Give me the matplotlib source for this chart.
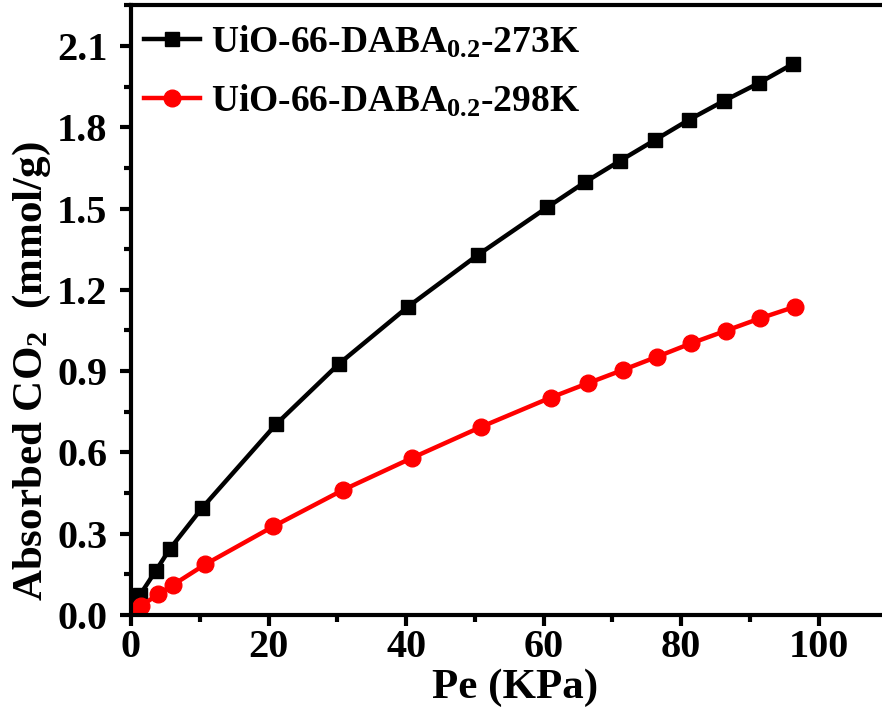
import matplotlib
matplotlib.use('Agg')
import matplotlib.pyplot as plt
from matplotlib.ticker import MultipleLocator, FormatStrFormatter

plt.rcParams['font.family'] = ['Liberation Serif', 'DejaVu Serif']
plt.rcParams['font.weight'] = 'bold'
plt.rcParams['mathtext.fontset'] = 'custom'
plt.rcParams['mathtext.rm'] = 'Liberation Serif:bold'
plt.rcParams['mathtext.it'] = 'Liberation Serif:bold'
plt.rcParams['mathtext.bf'] = 'Liberation Serif:bold'

# CO2 uptake, 273 K
p_273 = [0.6, 1.3, 3.6, 5.6, 10.3, 21.1, 30.2, 40.3, 50.4, 60.5, 66.0,
         71.1, 76.2, 81.1, 86.2, 91.3, 96.2]
q_273 = [0.026, 0.074, 0.163, 0.242, 0.394, 0.704, 0.926, 1.138, 1.328,
         1.504, 1.597, 1.676, 1.753, 1.827, 1.897, 1.963, 2.033]

# CO2 uptake, 298 K
p_298 = [0.6, 1.45, 3.9, 6.1, 10.8, 20.7, 30.8, 40.9, 50.9, 61.0, 66.4,
         71.5, 76.5, 81.5, 86.5, 91.5, 96.6]
q_298 = [0.016, 0.033, 0.076, 0.111, 0.187, 0.327, 0.461, 0.580, 0.694,
         0.802, 0.855, 0.904, 0.953, 1.003, 1.049, 1.095, 1.138]

labels = [r'UiO-66-DABA$_{0.2}$-273K', r'UiO-66-DABA$_{0.2}$-298K']

fig = plt.figure(figsize=(8.82, 7.25), dpi=100)
ax = fig.add_axes([131 / 882, 110 / 725, 751 / 882, 610 / 725])

ax.plot(p_273, q_273, '-s', color='black', lw=3.2, ms=10, label=labels[0])
ax.plot(p_298, q_298, '-o', color='red', lw=3.2, ms=12, label=labels[1])

ax.set_xlim(0, 109.2)
ax.set_ylim(0, 2.251)
ax.xaxis.set_major_locator(MultipleLocator(20))
ax.xaxis.set_minor_locator(MultipleLocator(10))
ax.yaxis.set_major_locator(MultipleLocator(0.3))
ax.yaxis.set_minor_locator(MultipleLocator(0.15))
ax.yaxis.set_major_formatter(FormatStrFormatter('%.1f'))

for s in ax.spines.values():
    s.set_linewidth(3)
ax.spines['right'].set_visible(False)

ax.tick_params(which='major', direction='out', length=8, width=3, labelsize=29)
ax.tick_params(which='minor', direction='out', length=5, width=3)
ax.tick_params(axis='x', which='major', pad=2)
ax.tick_params(axis='y', which='major', pad=9)

ax.set_xlabel('Pe (KPa)', fontsize=31, fontweight='bold')
ax.set_ylabel(r'Absorbed CO$_2$  (mmol/g)', fontsize=31, fontweight='bold')
ax.xaxis.set_label_coords(0.511, -0.087)
ax.yaxis.set_label_coords(-0.104, 0.40)

ax.legend(loc='upper left', bbox_to_anchor=(-0.018, 1.012), frameon=False, fontsize=27,
          handlelength=1.5, handletextpad=0.3, labelspacing=0.6, borderaxespad=0.3)

fig.savefig('out.png', dpi=100)
